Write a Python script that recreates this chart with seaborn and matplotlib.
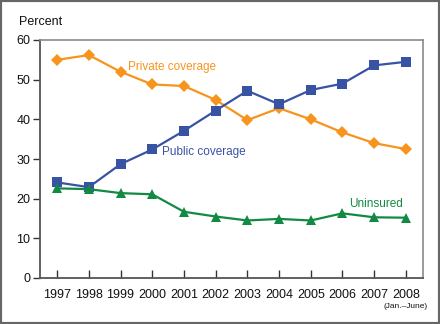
import matplotlib
matplotlib.use("Agg")
import matplotlib.pyplot as plt
import seaborn as sns
import pandas as pd
from matplotlib.patches import Rectangle

years = ["1997", "1998", "1999", "2000", "2001", "2002", "2003", "2004", "2005", "2006", "2007", "2008"]
private = [55.0, 56.2, 52.0, 48.8, 48.4, 44.9, 39.8, 42.8, 40.0, 36.7, 34.0, 32.5]
public = [24.1, 22.9, 28.7, 32.4, 37.1, 42.2, 47.2, 43.8, 47.4, 49.0, 53.6, 54.5]
uninsured = [22.6, 22.4, 21.4, 21.1, 16.7, 15.5, 14.5, 14.9, 14.5, 16.3, 15.3, 15.2]
yticks = [0, 10, 20, 30, 40, 50, 60]

sns.set_theme(style="white")
plt.rcParams['font.family'] = ['Liberation Sans', 'DejaVu Sans']

ORANGE = "#F7941D"
BLUE = "#3953A4"
GREEN = "#138A43"

df = pd.DataFrame({"x": list(range(len(years))), "private": private,
                   "public": public, "uninsured": uninsured})

fig = plt.figure(figsize=(4.4, 3.24), dpi=100)
ax = fig.add_axes([40/440, 1-278/324, 383/440, 238/324])

sns.lineplot(data=df, x="x", y="private", ax=ax, color=ORANGE, marker="D",
             markersize=6, markeredgewidth=0, linewidth=1.6)
sns.lineplot(data=df, x="x", y="public", ax=ax, color=BLUE, marker="s",
             markersize=6.5, markeredgewidth=0, linewidth=1.6)
sns.lineplot(data=df, x="x", y="uninsured", ax=ax, color=GREEN, marker="^",
             markersize=7, markeredgewidth=0, linewidth=1.6)

ax.set_xlim(-0.54, 11.54)
ax.set_ylim(0, 60)
ax.set_xticks(range(len(years)))
ax.set_xticklabels(years)
ax.set_yticks(yticks)
ax.set_xlabel("")
ax.set_ylabel("")
ax.tick_params(axis="x", direction="in", length=6, width=1, color="#333333",
               labelsize=9, pad=8, labelcolor="#111111", bottom=True)
ax.tick_params(axis="y", direction="out", length=5, width=1, color="#333333",
               labelsize=9, pad=2, labelcolor="#111111", left=True)
for side in ["left", "bottom"]:
    ax.spines[side].set_color("#555555")
    ax.spines[side].set_linewidth(1.3)
for side in ["top", "right"]:
    ax.spines[side].set_visible(True)
    ax.spines[side].set_color("#8a8a8a")
    ax.spines[side].set_linewidth(1.2)

ax.text(2.25, 53.2, "Private coverage", color=ORANGE, fontsize=8.5, ha="left", va="center")
ax.text(3.3, 31.8, "Public coverage", color=BLUE, fontsize=8.5, ha="left", va="center")
ax.text(9.2, 18.7, "Uninsured", color=GREEN, fontsize=8.5, ha="left", va="center")

fig.text(19/440, 1-22/324, "Percent", fontsize=9, color="#111111", ha="left", va="center")
fig.text(406/440, 1-306/324, "(Jan.\u2013June)", fontsize=6, color="#111111", ha="center", va="center")

fig.patches.append(Rectangle((0, 0), 1, 1, transform=fig.transFigure, fill=False,
                             edgecolor="#666666", linewidth=3, zorder=10))

fig.savefig("out.png", dpi=100)
